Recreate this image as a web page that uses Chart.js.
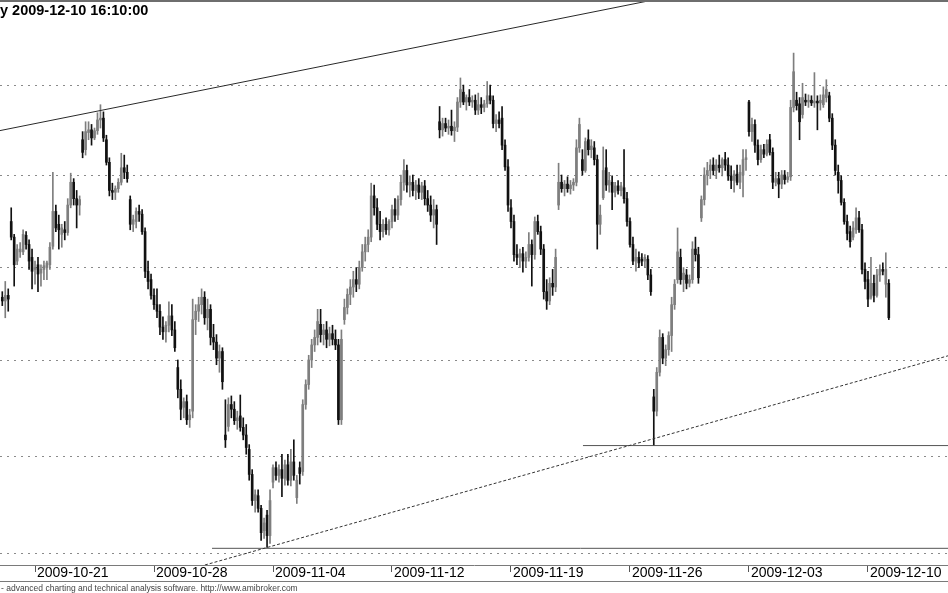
<!DOCTYPE html>
<html>
<head>
<meta charset="utf-8">
<title>2009-12-10 16:10:00</title>
<script src="https://cdn.jsdelivr.net/npm/chart.js@4.4.1/dist/chart.umd.min.js"></script>
<style>
  html, body { margin: 0; padding: 0; background: #fff; }
  #wrap { width: 948px; height: 593px; }
</style>
</head>
<body>
<div id="wrap"><canvas id="chart"></canvas></div>
<script>
// hourly bars, first day only partly visible
const days = ['2009-10-19', '2009-10-20', '2009-10-21', '2009-10-22', '2009-10-23',
  '2009-10-26', '2009-10-27', '2009-10-28', '2009-10-29', '2009-10-30',
  '2009-11-02', '2009-11-03', '2009-11-04', '2009-11-05', '2009-11-06',
  '2009-11-09', '2009-11-10', '2009-11-12', '2009-11-13', '2009-11-16',
  '2009-11-17', '2009-11-18', '2009-11-19', '2009-11-20', '2009-11-23',
  '2009-11-24', '2009-11-25', '2009-11-26', '2009-11-27', '2009-11-30',
  '2009-12-01', '2009-12-02', '2009-12-03', '2009-12-04', '2009-12-07',
  '2009-12-08', '2009-12-09', '2009-12-10'];
const firstDayBars = 3;
const barsPerDay = 8;

const tickDays = ['2009-10-21', '2009-10-28', '2009-11-04', '2009-11-12',
  '2009-11-19', '2009-11-26', '2009-12-03', '2009-12-10'];
const gridValues = [50, 51, 52, 53, 54, 55];

const open = [
  52.68, 52.64, 52.70, 53.50, 53.33, 53.07, 53.17, 53.17, 53.35, 53.25,
  53.11, 52.98, 53.03, 52.94, 52.98, 53.00, 53.03, 53.23, 53.61, 53.47,
  53.36, 53.41, 53.38, 53.68, 53.93, 53.75, 53.68, 54.40, 54.29, 54.48,
  54.51, 54.42, 54.50, 54.62, 54.64, 54.40, 54.15, 53.84, 53.82, 53.86,
  53.93, 54.09, 54.04, 53.74, 53.47, 53.50, 53.61, 53.58, 53.39, 52.96,
  52.87, 52.70, 52.60, 52.53, 52.36, 52.31, 52.38, 52.48, 52.33, 51.93,
  51.70, 51.51, 51.57, 51.38, 51.47, 52.44, 52.53, 52.60, 52.68, 52.46,
  52.55, 52.25, 52.20, 52.03, 52.10, 51.22, 51.31, 51.54, 51.49, 51.37,
  51.42, 51.30, 51.22, 51.07, 50.81, 50.54, 50.59, 50.46, 50.23, 50.39,
  50.18, 50.73, 50.88, 50.80, 50.86, 50.77, 50.91, 50.75, 50.94, 50.57,
  50.88, 50.84, 51.54, 51.75, 52.01, 52.17, 52.25, 52.39, 52.28, 52.33,
  52.23, 52.29, 52.23, 52.17, 51.38, 52.44, 52.57, 52.71, 52.79, 52.87,
  52.82, 53.00, 53.17, 53.25, 53.33, 53.78, 53.65, 53.47, 53.39, 53.47,
  53.41, 53.50, 53.63, 53.57, 53.74, 53.93, 54.06, 53.90, 53.93, 53.84,
  53.90, 53.82, 53.89, 53.75, 53.68, 53.57, 53.63, 54.60, 54.51, 54.58,
  54.53, 54.55, 54.50, 54.54, 54.82, 54.93, 54.82, 54.87, 54.82, 54.84,
  54.73, 54.79, 54.76, 54.80, 54.89, 54.84, 54.58, 54.62, 54.64, 54.34,
  54.10, 53.65, 53.50, 53.14, 53.11, 53.15, 53.07, 53.11, 53.25, 53.14,
  53.50, 53.39, 53.20, 52.74, 52.64, 52.83, 52.79, 53.68, 53.93, 53.86,
  53.91, 53.86, 53.90, 53.93, 54.31, 54.18, 54.06, 54.40, 54.29, 54.31,
  54.18, 53.47, 53.76, 54.09, 53.90, 53.93, 53.82, 53.89, 53.84, 53.87,
  53.75, 53.50, 53.25, 53.07, 53.11, 53.09, 53.07, 53.09, 52.92, 51.62,
  51.47, 51.88, 52.25, 52.03, 52.12, 52.27, 52.60, 52.87, 53.11, 52.87,
  52.92, 52.83, 52.87, 53.20, 53.14, 53.54, 53.74, 54.01, 54.06, 54.12,
  54.06, 54.12, 54.09, 54.18, 54.12, 54.00, 53.95, 54.02, 53.93, 54.01,
  54.18, 54.82, 54.49, 54.57, 54.34, 54.18, 54.29, 54.24, 54.40, 54.26,
  53.93, 53.97, 53.91, 54.01, 53.96, 53.99, 54.76, 54.84, 54.80, 54.68,
  54.84, 54.82, 54.84, 54.81, 54.83, 54.81, 54.79, 54.87, 54.89, 54.64,
  54.34, 54.04, 53.95, 53.71, 53.50, 53.39, 53.33, 53.41, 53.54, 53.41,
  52.98, 52.87, 52.68, 52.83, 52.70, 52.92, 52.98, 52.82, 52.83
];
const high = [
  52.74, 52.85, 52.77, 53.65, 53.36, 53.25, 53.27, 53.41, 53.39, 53.30,
  53.20, 53.07, 53.11, 53.03, 53.07, 53.07, 53.27, 54.04, 53.68, 53.57,
  53.47, 53.50, 53.75, 54.03, 53.97, 53.84, 53.78, 54.49, 54.60, 54.60,
  54.57, 54.53, 54.70, 54.79, 54.71, 54.45, 54.20, 53.92, 53.89, 53.97,
  54.25, 54.23, 54.12, 53.78, 53.57, 53.65, 53.68, 53.63, 53.43, 53.07,
  52.93, 52.77, 52.77, 52.60, 52.47, 52.42, 52.63, 52.60, 52.42, 52.01,
  51.80, 51.61, 51.64, 51.49, 52.66, 52.60, 52.68, 52.77, 52.74, 52.66,
  52.60, 52.39, 52.28, 52.17, 52.14, 51.59, 51.61, 51.63, 51.57, 51.47,
  51.64, 51.40, 51.33, 51.12, 50.86, 50.65, 50.65, 50.49, 50.36, 50.44,
  50.65, 50.91, 50.94, 50.91, 51.02, 50.96, 51.02, 51.07, 51.17, 50.80,
  50.94, 51.59, 51.80, 52.06, 52.23, 52.33, 52.55, 52.55, 52.39, 52.42,
  52.36, 52.38, 52.33, 52.23, 52.33, 52.66, 52.77, 52.87, 52.96, 53.00,
  53.07, 53.25, 53.33, 53.41, 53.92, 53.90, 53.75, 53.61, 53.52, 53.54,
  53.52, 53.68, 53.75, 53.78, 54.01, 54.18, 54.12, 54.00, 54.01, 53.95,
  53.97, 53.93, 53.95, 53.84, 53.78, 53.74, 53.68, 54.77, 54.64, 54.64,
  54.62, 54.73, 54.60, 54.87, 55.09, 55.01, 54.90, 54.96, 54.89, 54.90,
  54.92, 54.87, 54.84, 55.05, 55.01, 54.89, 54.68, 54.71, 54.77, 54.40,
  54.18, 53.74, 53.57, 53.25, 53.20, 53.22, 53.17, 53.38, 53.30, 53.55,
  53.57, 53.45, 53.25, 52.87, 52.89, 52.98, 53.20, 54.14, 54.01, 53.95,
  53.99, 53.95, 53.97, 54.40, 54.64, 54.29, 54.42, 54.51, 54.40, 54.38,
  54.23, 53.68, 54.32, 54.29, 54.04, 54.00, 53.93, 53.95, 53.93, 54.29,
  53.82, 53.54, 53.33, 53.20, 53.17, 53.15, 53.14, 53.13, 52.98, 51.70,
  51.93, 52.33, 52.29, 52.17, 52.31, 52.68, 52.87, 53.43, 53.20, 53.00,
  52.98, 52.92, 53.28, 53.33, 53.22, 53.78, 54.09, 54.15, 54.18, 54.20,
  54.18, 54.23, 54.20, 54.26, 54.20, 54.11, 54.06, 54.12, 54.12, 54.29,
  54.29, 54.84, 54.64, 54.62, 54.40, 54.34, 54.35, 54.40, 54.46, 54.31,
  54.04, 54.04, 54.06, 54.06, 54.04, 54.84, 55.37, 54.93, 54.87, 55.03,
  54.91, 54.90, 54.89, 55.15, 54.89, 54.90, 54.99, 55.07, 54.93, 54.69,
  54.40, 54.12, 54.00, 53.75, 53.57, 53.45, 53.50, 53.65, 53.61, 53.47,
  53.05, 52.96, 53.11, 52.92, 52.98, 53.03, 53.05, 53.16, 52.87
];
const low = [
  52.59, 52.46, 52.53, 53.30, 52.80, 53.03, 53.11, 53.14, 53.20, 52.98,
  52.77, 52.82, 52.74, 52.80, 52.87, 52.87, 52.98, 53.20, 53.39, 53.20,
  53.22, 53.30, 53.35, 53.65, 53.68, 53.43, 53.57, 54.20, 54.23, 54.40,
  54.34, 54.40, 54.46, 54.53, 54.38, 54.12, 53.78, 53.74, 53.74, 53.82,
  53.90, 53.97, 53.93, 53.41, 53.39, 53.43, 53.50, 53.36, 52.89, 52.77,
  52.66, 52.55, 52.46, 52.28, 52.23, 52.20, 52.31, 52.27, 52.10, 51.61,
  51.38, 51.40, 51.33, 51.30, 51.40, 52.28, 52.42, 52.50, 52.39, 52.33,
  52.17, 52.12, 51.96, 51.88, 51.70, 51.09, 51.26, 51.40, 51.33, 51.28,
  51.26, 51.17, 51.02, 50.75, 50.49, 50.42, 50.42, 50.13, 50.15, 50.06,
  50.10, 50.67, 50.75, 50.73, 50.58, 50.70, 50.70, 50.69, 50.75, 50.51,
  50.71, 50.80, 51.49, 51.70, 51.93, 52.10, 52.17, 52.20, 52.17, 52.14,
  52.16, 52.17, 52.12, 51.33, 51.33, 52.39, 52.50, 52.60, 52.68, 52.74,
  52.77, 52.96, 53.07, 53.17, 53.28, 53.57, 53.41, 53.30, 53.33, 53.36,
  53.35, 53.43, 53.50, 53.52, 53.68, 53.84, 53.82, 53.77, 53.78, 53.74,
  53.75, 53.74, 53.68, 53.61, 53.50, 53.43, 53.25, 54.42, 54.44, 54.49,
  54.46, 54.45, 54.38, 54.49, 54.76, 54.79, 54.73, 54.78, 54.76, 54.68,
  54.68, 54.69, 54.71, 54.76, 54.80, 54.53, 54.49, 54.53, 54.29, 54.06,
  53.61, 53.43, 53.07, 53.03, 53.00, 52.95, 53.00, 53.07, 52.80, 53.09,
  53.36, 53.14, 52.66, 52.55, 52.60, 52.70, 52.74, 53.63, 53.82, 53.78,
  53.82, 53.80, 53.84, 53.89, 54.26, 54.01, 54.04, 54.23, 54.20, 54.12,
  53.20, 53.36, 53.74, 53.84, 53.82, 53.63, 53.77, 53.80, 53.78, 53.70,
  53.45, 53.22, 53.03, 52.96, 53.00, 53.02, 53.00, 52.87, 52.70, 51.11,
  51.42, 51.84, 51.97, 51.95, 52.06, 52.10, 52.55, 52.83, 52.82, 52.74,
  52.77, 52.79, 52.83, 53.07, 52.83, 53.50, 53.68, 53.90, 53.97, 54.01,
  53.97, 54.04, 54.00, 54.06, 53.95, 53.86, 53.82, 53.90, 53.86, 53.77,
  54.06, 54.44, 54.38, 54.26, 54.12, 54.15, 54.20, 54.22, 54.23, 53.86,
  53.89, 53.76, 53.86, 53.91, 53.93, 53.95, 54.71, 54.73, 54.40, 54.64,
  54.78, 54.76, 54.78, 54.76, 54.51, 54.73, 54.76, 54.82, 54.60, 54.29,
  54.01, 53.81, 53.68, 53.47, 53.30, 53.22, 53.30, 53.37, 53.38, 52.93,
  52.77, 52.58, 52.66, 52.63, 52.68, 52.85, 52.92, 52.68, 52.44
];
const close = [
  52.64, 52.70, 52.66, 53.33, 53.03, 53.20, 53.20, 53.36, 53.25, 53.07,
  52.96, 53.00, 52.93, 52.98, 53.02, 53.05, 53.22, 53.61, 53.43, 53.41,
  53.43, 53.38, 53.68, 53.93, 53.75, 53.68, 53.74, 54.26, 54.49, 54.51,
  54.42, 54.50, 54.62, 54.64, 54.42, 54.15, 53.84, 53.82, 53.86, 53.93,
  54.09, 54.04, 53.97, 53.47, 53.52, 53.61, 53.58, 53.39, 52.96, 52.85,
  52.70, 52.60, 52.53, 52.36, 52.31, 52.38, 52.48, 52.33, 52.14, 51.70,
  51.49, 51.57, 51.38, 51.43, 52.44, 52.53, 52.60, 52.68, 52.46, 52.55,
  52.25, 52.20, 52.03, 52.10, 51.78, 51.17, 51.54, 51.49, 51.37, 51.40,
  51.30, 51.22, 51.09, 50.81, 50.54, 50.60, 50.46, 50.21, 50.31, 50.18,
  50.54, 50.88, 50.80, 50.86, 50.77, 50.91, 50.75, 50.94, 50.80, 50.75,
  50.82, 51.54, 51.75, 52.01, 52.17, 52.25, 52.42, 52.28, 52.33, 52.23,
  52.29, 52.23, 52.17, 51.38, 52.23, 52.57, 52.71, 52.79, 52.87, 52.82,
  53.00, 53.17, 53.25, 53.33, 53.78, 53.65, 53.47, 53.39, 53.47, 53.41,
  53.50, 53.63, 53.57, 53.74, 53.93, 54.06, 53.90, 53.93, 53.84, 53.90,
  53.82, 53.89, 53.75, 53.68, 53.57, 53.63, 53.47, 54.51, 54.58, 54.53,
  54.55, 54.50, 54.54, 54.82, 54.96, 54.82, 54.87, 54.82, 54.84, 54.73,
  54.79, 54.76, 54.80, 54.89, 54.84, 54.58, 54.62, 54.58, 54.34, 54.10,
  53.68, 53.50, 53.14, 53.11, 53.15, 53.07, 53.11, 53.25, 53.14, 53.50,
  53.39, 53.20, 52.74, 52.64, 52.83, 52.79, 53.11, 53.93, 53.86, 53.91,
  53.86, 53.90, 53.93, 54.31, 54.57, 54.06, 54.38, 54.29, 54.33, 54.18,
  53.47, 53.57, 54.06, 53.90, 53.95, 53.82, 53.89, 53.84, 53.89, 53.75,
  53.50, 53.25, 53.07, 53.11, 53.05, 53.07, 53.11, 52.92, 52.74, 51.47,
  51.88, 52.25, 52.03, 52.12, 52.27, 52.60, 52.82, 53.17, 52.87, 52.94,
  52.83, 52.87, 53.20, 53.14, 52.89, 53.74, 54.01, 54.06, 54.12, 54.06,
  54.12, 54.09, 54.18, 54.12, 54.00, 53.95, 54.02, 53.93, 54.04, 54.18,
  54.20, 54.49, 54.57, 54.34, 54.18, 54.29, 54.24, 54.35, 54.26, 53.93,
  53.97, 53.91, 54.01, 53.96, 53.99, 54.76, 55.16, 54.78, 54.60, 54.87,
  54.82, 54.84, 54.81, 54.83, 54.81, 54.84, 54.90, 54.96, 54.64, 54.34,
  54.06, 53.95, 53.71, 53.50, 53.37, 53.28, 53.43, 53.54, 53.41, 52.98,
  52.85, 52.66, 52.83, 52.70, 52.92, 52.98, 52.96, 52.98, 52.46
];

// trend lines drawn on the chart: [bar index, price]
const upperTrend = [[-1, 54.50], [234.5, 56.08]];
const lowerTrend = [[68.1, 49.88], [321.9, 52.09]];
const support1 = [[70.5, 50.05], [330, 50.05]];
const support2 = [[195.2, 51.11], [330, 51.11]];

const titleText = 'y 2009-12-10 16:10:00';
const footerText = '- advanced charting and technical analysis software. http://www.amibroker.com';

// first bar of every day
const dayStart = {};
let n = 0;
days.forEach((d, k) => {
  dayStart[d] = n;
  n += k === 0 ? firstDayBars : barsPerDay;
});
const labelAt = {};
tickDays.forEach(d => { labelAt[dayStart[d]] = d; });

const UP = '#7e7e7e';
const DOWN = '#111';
const colors = close.map((c, i) => c >= open[i] ? UP : DOWN);
const wicks = close.map((c, i) => ({x: i, y: [low[i], high[i]]}));
const bodies = close.map((c, i) => ({x: i, y: [open[i], c]}));

function pts(arr) {
  return arr.map(p => ({x: p[0], y: p[1]}));
}

function lineSet(arr, extra) {
  return Object.assign({
    type: 'line',
    data: pts(arr),
    borderColor: '#2a2a2a',
    borderWidth: 1,
    pointRadius: 0,
    tension: 0,
    order: 0
  }, extra || {});
}

// frame, title and credit line like the original screen
const decor = {
  id: 'decor',
  afterDraw(chart) {
    const c = chart.ctx;
    const w = chart.width;
    c.save();
    c.fillStyle = '#6e6e6e';
    c.fillRect(0, 0, w, 2);
    c.fillStyle = '#7a7a7a';
    c.fillRect(0, 581, w, 1);
    c.fillStyle = '#000';
    c.font = 'bold 14.5px "Liberation Sans", Arial, sans-serif';
    c.textBaseline = 'alphabetic';
    c.fillText(titleText, 0, 15);
    c.fillStyle = '#444';
    c.font = '8.5px "Liberation Sans", Arial, sans-serif';
    c.fillText(footerText, 1, 591);
    c.restore();
  }
};

const ctx = document.getElementById('chart').getContext('2d');
new Chart(ctx, {
  type: 'bar',
  data: {
    datasets: [
      lineSet(upperTrend),
      lineSet(lowerTrend, {borderDash: [3, 2], borderColor: '#333'}),
      lineSet(support1, {borderColor: '#555'}),
      lineSet(support2, {borderColor: '#555'}),
      {
        label: 'range',
        data: wicks,
        backgroundColor: colors,
        barThickness: 1,
        grouped: false,
        order: 2
      },
      {
        label: 'body',
        data: bodies,
        backgroundColor: colors,
        barThickness: 2,
        minBarLength: 1,
        grouped: false,
        order: 1
      }
    ]
  },
  options: {
    responsive: true,
    maintainAspectRatio: false,
    animation: false,
    events: [],
    layout: { padding: { top: 2, bottom: 12, left: 0, right: 0 } },
    plugins: {
      legend: { display: false },
      tooltip: { enabled: false }
    },
    scales: {
      x: {
        type: 'linear',
        min: -0.77,
        max: 317.9,
        bounds: 'data',
        offset: false,
        afterBuildTicks: s => { s.ticks = tickDays.map(d => ({value: dayStart[d]})); },
        afterFit: s => { s.height = 16; },
        ticks: {
          autoSkip: false,
          maxRotation: 0,
          align: 'start',
          labelOffset: 2,
          padding: -7,
          color: '#000',
          font: { family: '"Liberation Sans", Arial, sans-serif', size: 14, lineHeight: 1.2 },
          callback: v => labelAt[v] || ''
        },
        grid: { drawOnChartArea: false, drawTicks: true, tickLength: 7, tickColor: '#555', offset: false },
        border: { display: true, color: '#7a7a7a', width: 1 }
      },
      y: {
        type: 'logarithmic',
        min: 49.88,
        max: 55.95,
        bounds: 'data',
        afterBuildTicks: s => { s.ticks = gridValues.map(v => ({value: v})); },
        ticks: { display: false },
        grid: { color: '#8a8a8a', drawTicks: false, lineWidth: 1 },
        border: { display: false, dash: [2, 5] }
      }
    }
  },
  plugins: [decor]
});
</script>
</body>
</html>
